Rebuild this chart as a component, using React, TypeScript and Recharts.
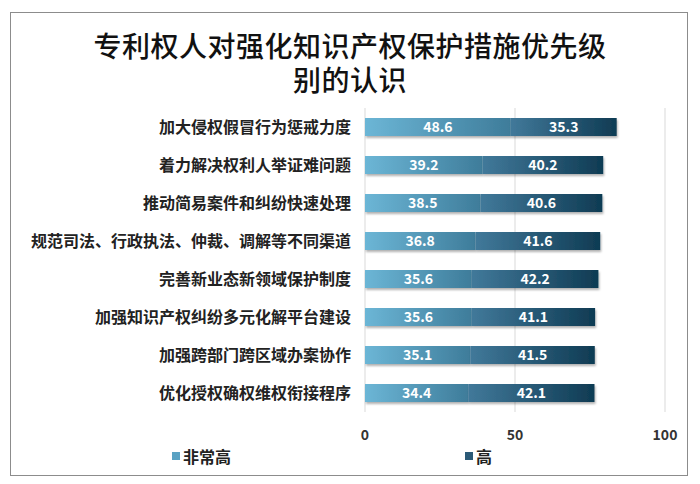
import { BarChart, Bar, XAxis, YAxis, CartesianGrid, LabelList, Legend } from "recharts";

const categories = [
  "加大侵权假冒行为惩戒力度",
  "着力解决权利人举证难问题",
  "推动简易案件和纠纷快速处理",
  "规范司法、行政执法、仲裁、调解等不同渠道",
  "完善新业态新领域保护制度",
  "加强知识产权纠纷多元化解平台建设",
  "加强跨部门跨区域办案协作",
  "优化授权确权维权衔接程序",
];
const veryHigh = [48.6, 39.2, 38.5, 36.8, 35.6, 35.6, 35.1, 34.4];
const high = [35.3, 40.2, 40.6, 41.6, 42.2, 41.1, 41.5, 42.1];
const xTicks = [0, 50, 100];
const titleLines = ["专利权人对强化知识产权保护措施优先级", "别的认识"];

const data = categories.map((name, i) => ({ name, veryHigh: veryHigh[i], high: high[i] }));

const font = "'Noto Sans CJK SC', 'Noto Sans', sans-serif";

const renderLegend = () => (
  <div style={{ position: "relative", height: 24, fontFamily: font, fontWeight: 700, fontSize: 16, color: "#222" }}>
    <span style={{ position: "absolute", left: 162, top: 0, display: "flex", alignItems: "center" }}>
      <span style={{ width: 8, height: 8, background: "#5aa2c3", marginRight: 3 }} />非常高
    </span>
    <span style={{ position: "absolute", left: 455, top: 0, display: "flex", alignItems: "center" }}>
      <span style={{ width: 8, height: 8, background: "#2b5a77", marginRight: 3 }} />高
    </span>
  </div>
);

export default function App() {
  return (
    <div style={{ position: "absolute", left: 0, top: 0, width: 700, height: 484, background: "#fff" }}>
      <div
        style={{
          position: "absolute",
          left: 10,
          top: 12,
          width: 678,
          height: 464,
          border: "1px solid #8c8c8c",
          boxSizing: "border-box",
        }}
      />
      {titleLines.map((line, i) => (
        <div
          key={line}
          style={{
            position: "absolute",
            left: 0,
            top: 31 + i * 34,
            width: 700,
            textAlign: "center",
            fontFamily: font,
            fontSize: 28,
            fontWeight: 500,
            letterSpacing: 0.5,
            lineHeight: "28px",
            color: "#111",
          }}
        >
          {line}
        </div>
      ))}
      <BarChart
        width={700}
        height={484}
        data={data}
        layout="vertical"
        barSize={18}
        margin={{ top: 108, right: 35, bottom: 10, left: 10 }}
      >
        <defs>
          <linearGradient id="gVeryHigh" x1="0" y1="0" x2="1" y2="0">
            <stop offset="0%" stopColor="#6cb6d6" />
            <stop offset="100%" stopColor="#3e7c9a" />
          </linearGradient>
          <linearGradient id="gHigh" x1="0" y1="0" x2="1" y2="0">
            <stop offset="0%" stopColor="#41799a" />
            <stop offset="100%" stopColor="#0f3b53" />
          </linearGradient>
          <filter id="shadow" x="-5%" y="-20%" width="110%" height="160%">
            <feDropShadow dx="1" dy="2" stdDeviation="1.2" floodColor="#000" floodOpacity="0.3" />
          </filter>
        </defs>
        <CartesianGrid horizontal={false} stroke="#d9d9d9" />
        <XAxis
          type="number"
          domain={[0, 100]}
          ticks={xTicks}
          axisLine={false}
          tickLine={false}
          tick={{ fill: "#333", fontSize: 14, fontFamily: font, fontWeight: 700 }}
          tickMargin={12}
          height={32}
        />
        <YAxis
          type="category"
          dataKey="name"
          width={355}
          axisLine={false}
          tickLine={false}
          interval={0}
          tick={{ fill: "#222", fontSize: 16, fontFamily: font, fontWeight: 700 }}
          tickMargin={8}
        />
        <Legend content={renderLegend} verticalAlign="bottom" height={30} />
        <Bar dataKey="veryHigh" name="非常高" stackId="a" fill="url(#gVeryHigh)" filter="url(#shadow)" isAnimationActive={false}>
          <LabelList dataKey="veryHigh" position="center" fill="#fff" fontSize={14} fontWeight={700} fontFamily={font} />
        </Bar>
        <Bar dataKey="high" name="高" stackId="a" fill="url(#gHigh)" filter="url(#shadow)" isAnimationActive={false}>
          <LabelList dataKey="high" position="center" fill="#fff" fontSize={14} fontWeight={700} fontFamily={font} />
        </Bar>
      </BarChart>
    </div>
  );
}
